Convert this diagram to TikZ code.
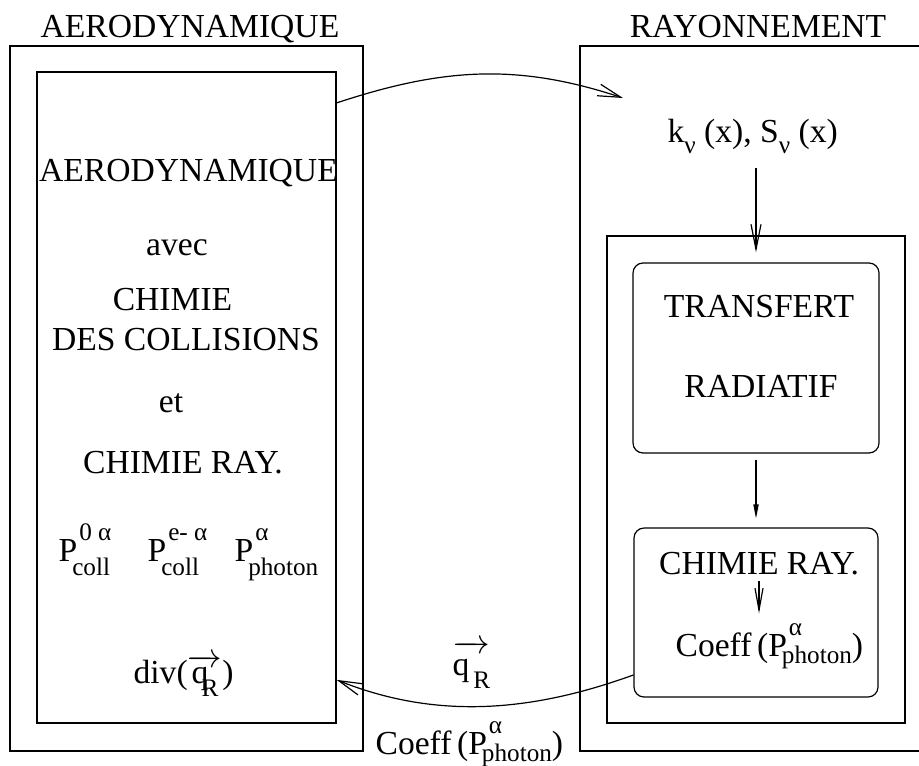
\documentclass[tikz,border=0pt]{standalone}
\usepackage{fontspec}
\setmainfont{Liberation Serif}
\usetikzlibrary{arrows.meta, positioning}

\newcommand{\mainsz}{\fontsize{16.8pt}{20pt}\selectfont}
\newcommand{\subsz}{\fontsize{12.6pt}{14pt}\selectfont}
\newcommand{\supsub}[3][7pt]{\rlap{\kern1pt\raisebox{10.5pt}{\subsz #2}}\kern-2.5pt\raisebox{-#1}{\subsz #3}}
% #1: kern between q and R, #2: height under the arrow
\newcommand{\vecqR}[2]{\ensuremath{\overrightarrow{\mbox{\rule{0pt}{#2}q\kern#1\raisebox{-6.5pt}{\subsz R}}}}}

\begin{document}
\begin{tikzpicture}[x=0.5pt, y=-0.5pt, line width=0.6pt,
  box/.style={draw, inner sep=0pt},
  rbox/.style={box, rounded corners=5pt},
  barb/.style={-{Straight Barb[length=11.5pt, width=6pt]}}]
\clip (0,0) rectangle (919,765);

% frames
\node [box, minimum width=176.5pt, minimum height=352.5pt] (aeroOut) at (186.5,398.5) {};
\node [box, minimum width=149.5pt, minimum height=325.5pt] (aeroIn)  at (186.5,397.5) {};
\node [box, minimum width=172.5pt, minimum height=352.5pt] (rayOut)  at (752.5,398.5) {};
\node [box, minimum width=149pt,   minimum height=243.5pt] (rayIn)   at (756,479.5) {};
\node [rbox, minimum width=123pt, minimum height=95pt]     (transfert) at (756,358) {};
\node [rbox, minimum width=122pt, minimum height=84.5pt]   (chimie)    at (756,612.5) {};

\begin{scope}[every node/.style={font=\mainsz, inner sep=0pt, anchor=base}]
\node (aeroTitle) at (190,38) {AERODYNAMIQUE};
\node (rayTitle)  at (758,38) {RAYONNEMENT};
\foreach \t/\x/\y [count=\i] in {AERODYNAMIQUE/188.5/181, avec/177/255, CHIMIE/172.5/310,
    DES COLLISIONS/186/350, et/171/412, CHIMIE RAY./183/473}
  \node (aero\i) at (\x,\y) {\t};
\node [anchor=base west] (pcollO) at (58,561)  {P\supsub{0 α}{coll}};
\node [anchor=base west] (pcollE) at (147,561) {P\supsub{e- α}{coll}};
\node [anchor=base west] (pphot)  at (234,561) {P\supsub{α}{photon}};
\node [anchor=base west] (divq)   at (133,683) {div(\vecqR{-3.5pt}{9pt})};

\node [anchor=base west] (knu) at (667,142)
  {k\raisebox{-5.5pt}{\subsz ν} (x), S\raisebox{-5.5pt}{\subsz ν} (x)};
\node (transA) at (759,317) {TRANSFERT};
\node (transB) at (761,397) {RADIATIF};
\node (chimRay) at (759,574) {CHIMIE RAY.};
\node [anchor=base west] (coeffIn)  at (675,656) {Coeff\,(P\supsub[3.5pt]{α}{photon})};
\node [anchor=base west] (qlab)     at (452,675) {\vecqR{2pt}{12pt}};
\node [anchor=base west] (coeffOut) at (375,754) {Coeff\,(P\supsub[3.5pt]{α}{photon})};
\end{scope}

\coordinate (rayEntry) at (623,98);

\draw [barb] (aeroIn.63.5) .. controls +(106,-35) and +(-106,-35) .. (rayEntry);
\draw [barb] (chimie.207.9) .. controls +(-102,37) and +(100,40) .. (aeroIn.-62.5);
\draw [-{Straight Barb[length=12.5pt, width=5pt]}, shorten <=7pt, shorten >=5pt]
  (knu.south -| transfert.north) -- (transfert.north);
\draw [-{Triangle[length=7pt, width=2.6pt]}, shorten <=3pt, shorten >=4.5pt]
  (transfert.south) -- (chimie.north);
\draw [-{Straight Barb[length=11pt, width=4pt]}, shorten <=3pt, shorten >=4.5pt]
  (chimRay.south) -- (chimRay.south |- coeffIn.north);
\end{tikzpicture}
\end{document}
